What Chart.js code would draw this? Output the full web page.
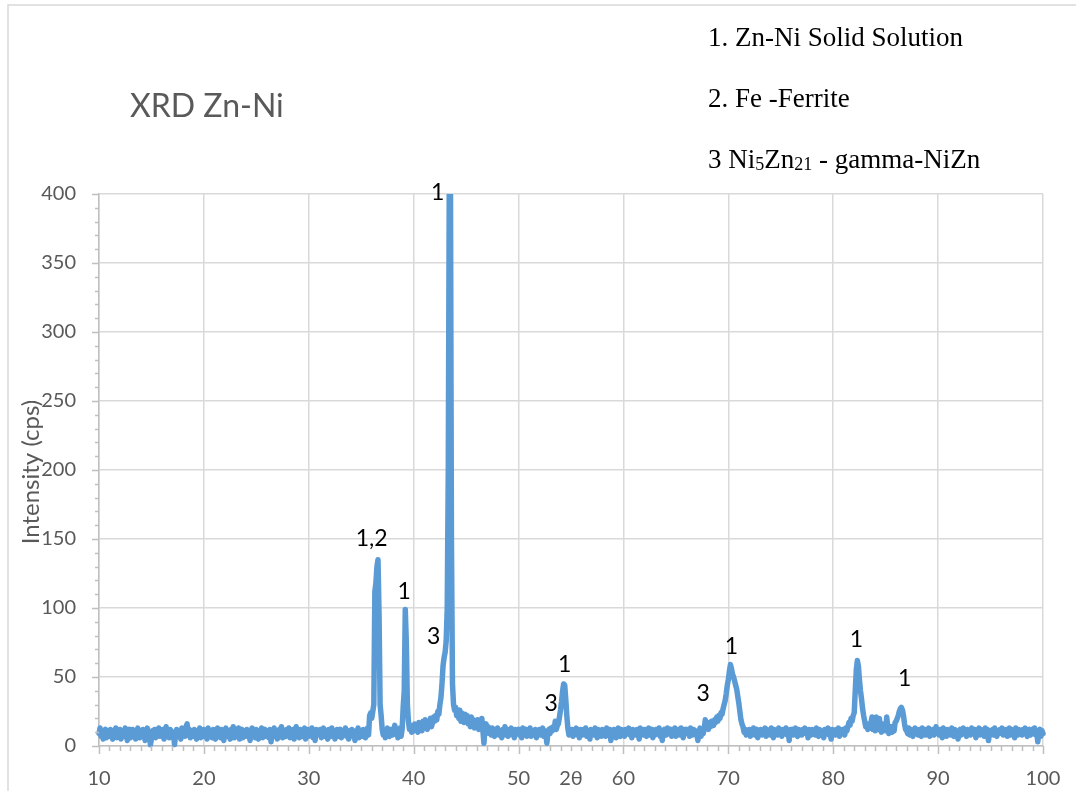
<!DOCTYPE html>
<html>
<head>
<meta charset="utf-8">
<title>XRD Zn-Ni</title>
<script src="https://cdn.jsdelivr.net/npm/chart.js"></script>
<style>
  html, body { margin: 0; padding: 0; background: #ffffff; }
  #wrap { width: 1076px; height: 791px; position: relative; }
</style>
</head>
<body>
<div id="wrap"><canvas id="xrdChart" width="1076" height="791"></canvas></div>
<script>
// scan starts at 10 deg 2theta, one reading every 0.1 deg
const startAngle = 10;
const stepAngle = 0.1;

// intensity (cps), one row per degree (x.0 ... x.9), last value is 100.0
const intensity = [
  9, 13, 7, 11, 5, 10, 12, 6, 9, 11,
  7, 12, 8, 5, 11, 9, 13, 6, 10, 8,
  12, 5, 9, 11, 7, 13, 8, 4, 10, 12,
  6, 9, 12, 7, 11, 5, 10, 13, 8, 6,
  11, 7, 12, 9, 4, 10, 13, 6, 9, 1,
  5, 11, 8, 12, 6, 10, 9, 13, 7, 11,
  8, 12, 5, 10, 14, 7, 11, 6, 12, 9,
  6, 10, 1, 8, 12, 7, 11, 9, 5, 13,
  8, 11, 7, 14, 16, 10, 12, 6, 9, 11,
  7, 12, 9, 5, 11, 8, 13, 6, 10, 7,
  12, 8, 10, 5, 13, 9, 7, 11, 6, 12,
  9, 5, 11, 13, 7, 10, 6, 12, 8, 4,
  10, 13, 7, 11, 9, 5, 12, 8, 14, 6,
  11, 7, 9, 13, 5, 10, 12, 6, 9, 11,
  7, 12, 8, 10, 4, 11, 13, 7, 9, 6,
  12, 9, 5, 11, 8, 13, 6, 10, 12, 7,
  9, 11, 6, 12, 3, 10, 8, 13, 7, 11,
  5, 10, 12, 8, 14, 6, 11, 9, 7, 12,
  8, 13, 6, 10, 9, 12, 5, 11, 14, 7,
  10, 6, 12, 9, 7, 11, 13, 5, 9, 12,
  7, 11, 8, 13, 6, 10, 4, 12, 9, 11,
  8, 12, 6, 10, 13, 7, 11, 9, 5, 12,
  10, 7, 13, 8, 11, 5, 9, 12, 7, 10,
  12, 6, 9, 11, 8, 13, 7, 10, 5, 11,
  9, 12, 7, 10, 4, 11, 8, 13, 6, 10,
  11, 7, 12, 9, 6, 10, 13, 8, 22, 24,
  20, 25, 30, 112, 118, 130, 135, 95, 30, 22,
  12, 8, 11, 6, 10, 13, 9, 7, 12, 10,
  8, 12, 15, 9, 11, 6, 10, 13, 7, 12,
  28, 40, 99, 75, 30, 18, 12, 15, 10, 13,
  11, 16, 12, 14, 10, 17, 13, 15, 11, 18,
  14, 19, 15, 12, 18, 16, 20, 14, 17, 21,
  18, 22, 19, 25, 23, 30, 35, 45, 58, 64,
  68, 76, 100, 200, 420, 430, 150, 45, 30, 26,
  28, 22, 25, 20, 26, 18, 24, 21, 17, 23,
  19, 22, 16, 20, 14, 21, 17, 19, 13, 18,
  15, 19, 12, 17, 14, 20, 11, 2, 13, 16,
  11, 14, 9, 12, 8, 13, 10, 7, 12, 9,
  13, 8, 11, 10, 6, 12, 9, 14, 8, 11,
  7, 12, 10, 13, 8, 11, 6, 12, 9, 10,
  12, 8, 11, 6, 13, 9, 10, 12, 7, 11,
  9, 13, 7, 11, 10, 8, 12, 6, 11, 9,
  12, 8, 10, 13, 7, 11, 9, 2, 10, 12,
  9, 13, 11, 14, 12, 18, 12, 15, 16, 21,
  26, 32, 40, 45, 44, 34, 22, 13, 8, 11,
  9, 12, 7, 11, 10, 13, 8, 11, 6, 12,
  10, 8, 12, 9, 13, 7, 11, 10, 5, 12,
  9, 11, 8, 13, 10, 6, 12, 9, 11, 7,
  12, 9, 11, 7, 13, 10, 8, 12, 4, 11,
  8, 12, 10, 6, 11, 13, 9, 7, 12, 10,
  11, 7, 12, 9, 10, 13, 8, 11, 6, 12,
  9, 11, 8, 12, 10, 5, 13, 9, 11, 8,
  12, 10, 7, 11, 13, 8, 10, 12, 6, 11,
  8, 12, 10, 9, 13, 7, 11, 4, 10, 12,
  11, 8, 13, 9, 10, 12, 7, 11, 9, 13,
  7, 11, 10, 12, 8, 13, 9, 6, 12, 10,
  12, 9, 11, 7, 13, 10, 8, 12, 9, 11,
  8, 4, 10, 13, 7, 11, 9, 12, 19, 13,
  15, 12, 17, 14, 18, 16, 15, 19, 17, 21,
  18, 22, 20, 24, 23, 27, 30, 33, 38, 44,
  48, 54, 59, 56, 52, 50, 47, 44, 41, 36,
  31, 25, 19, 16, 14, 10, 12, 8, 11, 9,
  12, 7, 11, 9, 13, 8, 10, 12, 6, 11,
  9, 12, 8, 11, 10, 13, 7, 12, 9, 11,
  8, 13, 10, 6, 12, 9, 11, 8, 13, 10,
  11, 7, 12, 10, 9, 13, 8, 11, 4, 12,
  10, 12, 8, 11, 13, 9, 7, 12, 10, 11,
  8, 12, 10, 13, 9, 11, 6, 12, 10, 8,
  12, 9, 11, 8, 13, 10, 7, 12, 9, 11,
  10, 6, 12, 9, 11, 13, 8, 10, 5, 12,
  9, 11, 8, 12, 10, 13, 7, 11, 9, 12,
  10, 8, 13, 11, 14, 17, 15, 20, 18, 22,
  24, 40, 55, 62, 58, 48, 40, 34, 27, 22,
  18, 14, 16, 12, 15, 13, 17, 21, 12, 15,
  11, 21, 14, 12, 20, 13, 10, 16, 12, 14,
  11, 21, 13, 9, 12, 14, 10, 13, 11, 17,
  18, 20, 22, 25, 27, 28, 26, 22, 16, 12,
  11, 9, 13, 8, 12, 10, 7, 11, 13, 9,
  11, 8, 12, 10, 7, 13, 9, 11, 8, 12,
  10, 13, 7, 11, 9, 12, 8, 10, 14, 9,
  11, 8, 12, 10, 6, 13, 9, 11, 7, 12,
  9, 11, 8, 13, 10, 7, 12, 9, 11, 5,
  10, 12, 8, 11, 13, 9, 10, 7, 12, 9,
  11, 8, 13, 10, 9, 12, 6, 11, 10, 13,
  8, 12, 9, 11, 7, 13, 10, 12, 4, 9,
  11, 9, 12, 8, 13, 10, 7, 11, 9, 12,
  10, 13, 8, 11, 9, 12, 7, 10, 13, 8,
  12, 9, 11, 6, 13, 10, 8, 12, 9, 11,
  8, 12, 10, 13, 9, 7, 11, 12, 8, 10,
  12, 9, 13, 8, 11, 3, 10, 12, 7, 11,
  9
];

const twoTheta = intensity.map((_, i) => +(startAngle + i * stepAngle).toFixed(1));

// phase labels placed over the peaks (2theta, cps)
const peakLabels = ["1", "1,2", "1", "3", "3", "1", "3", "1", "1", "1"];
const peakLabelX = [42.3, 36.0, 39.1, 41.9, 53.1, 54.4, 67.6, 70.3, 82.2, 86.8];
const peakLabelY = [401, 150, 112, 79, 31, 59, 38, 72, 77, 49];

// phase key, top right
const phaseKey = ["1. Zn-Ni Solid Solution", "2. Fe -Ferrite"];

const greyText = "#595959";
const axisGrey = "#bfbfbf";
const gridGrey = "#d9d9d9";

// frame, title, phase key, minor ticks and peak labels
const decorPlugin = {
  id: "decor",
  beforeDraw(chart) {
    const ctx = chart.ctx;
    ctx.save();
    ctx.fillStyle = "#ffffff";
    ctx.fillRect(0, 0, chart.width, chart.height);
    ctx.strokeStyle = gridGrey;
    ctx.lineWidth = 1.5;
    ctx.beginPath();
    ctx.moveTo(8, chart.height);
    ctx.lineTo(8, 5);
    ctx.lineTo(chart.width, 5);
    ctx.stroke();
    ctx.restore();
  },
  afterDraw(chart) {
    const ctx = chart.ctx;
    const x = chart.scales.x;
    const y = chart.scales.y;
    ctx.save();

    // minor + major tick marks
    ctx.strokeStyle = axisGrey;
    ctx.lineWidth = 1.5;
    ctx.beginPath();
    for (let v = 10; v <= 100; v++) {
      const px = Math.round(x.getPixelForValue(v)) + 0.5;
      const len = v % 10 === 0 ? 8 : 5;
      ctx.moveTo(px, y.bottom);
      ctx.lineTo(px, y.bottom + len);
    }
    for (let v = 0; v <= 400; v += 10) {
      const py = Math.round(y.getPixelForValue(v)) + 0.5;
      const len = v % 50 === 0 ? 7 : 4;
      ctx.moveTo(x.left - len, py);
      ctx.lineTo(x.left, py);
    }
    ctx.stroke();

    // chart title
    ctx.fillStyle = greyText;
    ctx.font = "32px Lato";
    ctx.textAlign = "left";
    ctx.textBaseline = "alphabetic";
    ctx.fillText("XRD Zn-Ni", 130, 117);

    // y axis title
    ctx.save();
    ctx.translate(31, 472);
    ctx.rotate(-Math.PI / 2);
    ctx.font = "24px Lato";
    ctx.textAlign = "center";
    ctx.textBaseline = "middle";
    ctx.fillText("Intensity (cps)", 0, 0);
    ctx.restore();

    // phase key
    ctx.fillStyle = "#000000";
    ctx.font = "27px 'Liberation Serif'";
    ctx.textAlign = "left";
    ctx.textBaseline = "alphabetic";
    ctx.fillText(phaseKey[0], 708, 46);
    ctx.fillText(phaseKey[1], 708, 107);
    let cx = 708;
    const line3 = [["3 Ni", 0], ["5", 1], ["Zn", 0], ["21", 1], [" - gamma-NiZn", 0]];
    line3.forEach(([txt, sub]) => {
      ctx.font = sub ? "18px 'Liberation Serif'" : "27px 'Liberation Serif'";
      ctx.fillText(txt, cx, sub ? 170 : 168);
      cx += ctx.measureText(txt).width;
    });

    // peak labels
    ctx.font = "23px Lato";
    ctx.textAlign = "center";
    ctx.textBaseline = "middle";
    peakLabels.forEach((lbl, i) => {
      ctx.fillText(lbl, x.getPixelForValue(peakLabelX[i]), y.getPixelForValue(peakLabelY[i]));
    });

    ctx.restore();
  },
};

const ctx = document.getElementById("xrdChart").getContext("2d");
const xrdChart = new Chart(ctx, {
  type: "line",
  data: {
    datasets: [
      {
        label: "XRD Zn-Ni",
        data: twoTheta.map((t, i) => ({ x: t, y: intensity[i] })),
        borderColor: "#5b9bd5",
        borderWidth: 5.5,
        borderJoinStyle: "round",
        borderCapStyle: "round",
        pointRadius: 0,
        tension: 0,
        fill: false,
        clip: { left: 5, right: 5, top: 0, bottom: 5 },
      },
    ],
  },
  options: {
    responsive: false,
    animation: false,
    layout: {
      padding: { top: 194, right: 33, left: 0, bottom: 0 },
    },
    plugins: {
      legend: { display: false },
      tooltip: { enabled: false },
    },
    scales: {
      x: {
        type: "linear",
        min: 10,
        max: 100,
        afterFit: (scale) => {
          scale.height = 45;
          scale.paddingLeft = 0;
          scale.paddingRight = 0;
        },
        border: { color: axisGrey, width: 1.5 },
        grid: {
          drawTicks: false,
          lineWidth: 1.5,
          color: (c) => (c.tick && c.tick.value % 10 === 0 ? gridGrey : "transparent"),
        },
        ticks: {
          stepSize: 5,
          autoSkip: false,
          maxRotation: 0,
          padding: 21,
          color: greyText,
          font: { family: "Lato", size: 20 },
          callback: (v) => (v % 10 === 0 ? v : v === 55 ? "2θ" : ""),
        },
      },
      y: {
        min: 0,
        max: 400,
        afterFit: (scale) => {
          scale.width = 99;
          scale.paddingTop = 0;
          scale.paddingBottom = 0;
        },
        border: { color: axisGrey, width: 1.5 },
        grid: {
          drawTicks: false,
          lineWidth: 1.5,
          color: gridGrey,
        },
        ticks: {
          stepSize: 50,
          padding: 23,
          color: greyText,
          font: { family: "Lato", size: 20 },
        },
      },
    },
  },
  plugins: [decorPlugin],
});
</script>
</body>
</html>
